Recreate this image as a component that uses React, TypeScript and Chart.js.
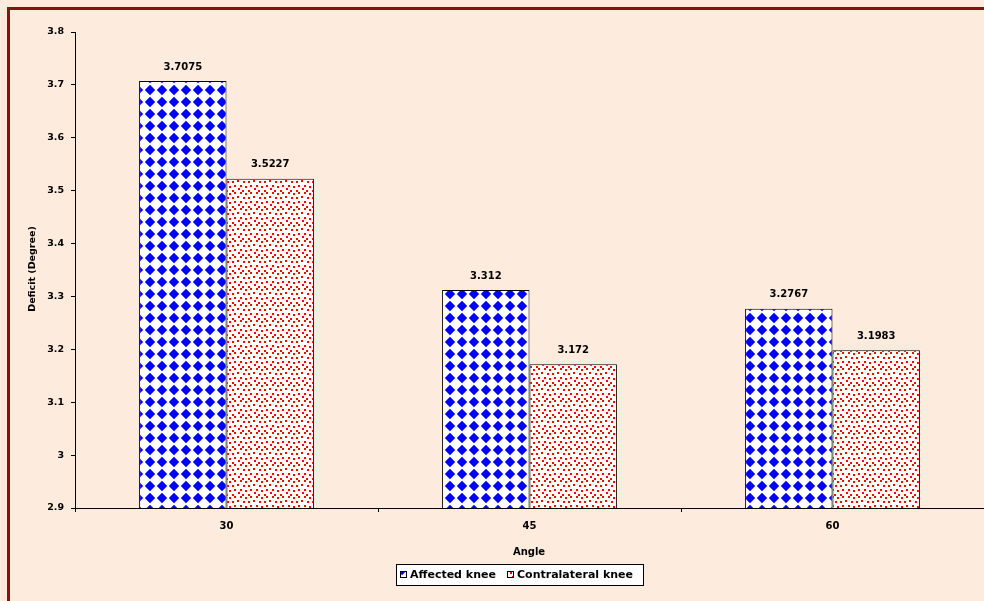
import React, { useEffect, useRef } from "react";
import { Chart, registerables } from "chart.js";

Chart.register(...registerables);

const categories = ["30", "45", "60"];
const affectedKnee = [3.7075, 3.312, 3.2767];
const contralateralKnee = [3.5227, 3.172, 3.1983];
const affectedLabels = ["3.7075", "3.312", "3.2767"];
const contralateralLabels = ["3.5227", "3.172", "3.1983"];
const seriesNames = ["Affected knee", "Contralateral knee"];
const yTitle = "Deficit (Degree)";
const xTitle = "Angle";

const BG = "#FDEBDD";
const FONT = "'DejaVu Sans', Arial, sans-serif";

function makeDiamondPattern(): CanvasPattern | string {
  const c = document.createElement("canvas");
  c.width = 12;
  c.height = 12;
  const g = c.getContext("2d");
  if (!g) return "#0000FF";
  g.fillStyle = "#FFFFFF";
  g.fillRect(0, 0, 12, 12);
  g.fillStyle = "#0000FF";
  g.beginPath();
  g.moveTo(6, 0.8);
  g.lineTo(11.2, 6);
  g.lineTo(6, 11.2);
  g.lineTo(0.8, 6);
  g.closePath();
  g.fill();
  const p = g.createPattern(c, "repeat");
  return p || "#0000FF";
}

function makeDotPattern(): CanvasPattern | string {
  const c = document.createElement("canvas");
  c.width = 16;
  c.height = 16;
  const g = c.getContext("2d");
  if (!g) return "#FF0000";
  g.fillStyle = "#FFFFFF";
  g.fillRect(0, 0, 16, 16);
  g.fillStyle = "#FF0000";
  const dots = [
    [0, 0], [5, 1], [10, 0], [13, 4], [3, 5], [8, 5],
    [0, 9], [5, 10], [10, 9], [14, 12], [2, 14], [8, 14],
  ];
  dots.forEach(([x, y]) => g.fillRect(x, y, 2, 2));
  const p = g.createPattern(c, "repeat");
  return p || "#FF0000";
}

export default function App() {
  const ref = useRef<HTMLCanvasElement | null>(null);

  useEffect(() => {
    document.body.style.margin = "0";
    const canvas = ref.current;
    if (!canvas) return;
    const bluePat = makeDiamondPattern();
    const redPat = makeDotPattern();
    const valueLabels = [affectedLabels, contralateralLabels];

    const decor = {
      id: "decor",
      beforeDraw(chart: any) {
        const ctx = chart.ctx;
        ctx.save();
        ctx.fillStyle = BG;
        ctx.fillRect(0, 0, chart.width, chart.height);
        ctx.strokeStyle = "#8B1010";
        ctx.lineWidth = 3;
        ctx.strokeRect(8.5, 8.5, chart.width + 20, chart.height + 20);
        ctx.restore();
      },
      afterDraw(chart: any) {
        const ctx = chart.ctx;
        ctx.save();
        // value labels
        ctx.fillStyle = "#000";
        ctx.font = `bold 10px ${FONT}`;
        ctx.textAlign = "center";
        ctx.textBaseline = "middle";
        chart.data.datasets.forEach((ds: any, di: number) => {
          const meta = chart.getDatasetMeta(di);
          meta.data.forEach((bar: any, i: number) => {
            ctx.fillText(valueLabels[di][i], bar.x, bar.y - 14);
          });
        });
        // x title
        ctx.font = `bold 10px ${FONT}`;
        ctx.fillText(xTitle, 529, 552);
        // y title
        ctx.save();
        ctx.translate(33, 269);
        ctx.rotate(-Math.PI / 2);
        ctx.font = `bold 9.5px ${FONT}`;
        ctx.fillText(yTitle, 0, 0);
        ctx.restore();
        // legend
        const lx = 396, ly = 564, lw = 248, lh = 22;
        ctx.fillStyle = "#FFFFFF";
        ctx.fillRect(lx, ly, lw, lh);
        ctx.strokeStyle = "#000";
        ctx.lineWidth = 1;
        ctx.strokeRect(lx + 0.5, ly + 0.5, lw - 1, lh - 1);
        ctx.font = `bold 11px ${FONT}`;
        ctx.textAlign = "left";
        const items = [
          { x: 400, fill: bluePat, text: seriesNames[0] },
          { x: 507, fill: redPat, text: seriesNames[1] },
        ];
        items.forEach((it) => {
          ctx.fillStyle = it.fill as any;
          ctx.fillRect(it.x, ly + 7, 7, 7);
          ctx.strokeStyle = "#000";
          ctx.strokeRect(it.x + 0.5, ly + 7.5, 6, 6);
          ctx.fillStyle = "#000";
          ctx.fillText(it.text, it.x + 10, ly + 11);
        });
        ctx.restore();
      },
    };

    const chart = new Chart(canvas, {
      type: "bar",
      data: {
        labels: categories,
        datasets: [
          {
            label: seriesNames[0],
            data: affectedKnee,
            backgroundColor: bluePat as any,
            borderColor: "#000",
            borderWidth: 1,
            borderSkipped: false,
            barPercentage: 1,
            categoryPercentage: 0.577,
          },
          {
            label: seriesNames[1],
            data: contralateralKnee,
            backgroundColor: redPat as any,
            borderColor: "#000",
            borderWidth: 1,
            borderSkipped: false,
            barPercentage: 1,
            categoryPercentage: 0.577,
          },
        ],
      },
      options: {
        animation: false,
        responsive: false,
        maintainAspectRatio: false,
        layout: { padding: { top: 32, left: 0, right: 0, bottom: 0 } },
        plugins: {
          legend: { display: false },
          tooltip: { enabled: false },
        },
        scales: {
          x: {
            grid: {
              display: true,
              drawOnChartArea: false,
              drawTicks: true,
              tickLength: 4,
              color: "#000",
              offset: true,
            },
            border: { display: true, color: "#000", width: 1 },
            ticks: {
              color: "#000",
              font: { family: FONT, size: 10, weight: "bold" },
              padding: 8,
            },
            afterFit: (s: any) => {
              s.height = 93;
            },
          },
          y: {
            min: 2.9,
            max: 3.8,
            grid: {
              display: true,
              drawOnChartArea: false,
              drawTicks: true,
              tickLength: 4,
              color: "#000",
            },
            border: { display: true, color: "#000", width: 1 },
            ticks: {
              stepSize: 0.1,
              color: "#000",
              font: { family: FONT, size: 9.5, weight: "bold" },
              padding: 7,
              callback: (v: any) => String(Math.round(Number(v) * 10) / 10),
            },
            afterFit: (s: any) => {
              s.width = 75;
            },
          },
        },
      },
      plugins: [decor],
    });
    return () => chart.destroy();
  }, []);

  return (
    <div style={{ position: "absolute", left: 0, top: 0, width: 984, height: 601 }}>
      <canvas ref={ref} width={984} height={601} style={{ display: "block" }} />
    </div>
  );
}
